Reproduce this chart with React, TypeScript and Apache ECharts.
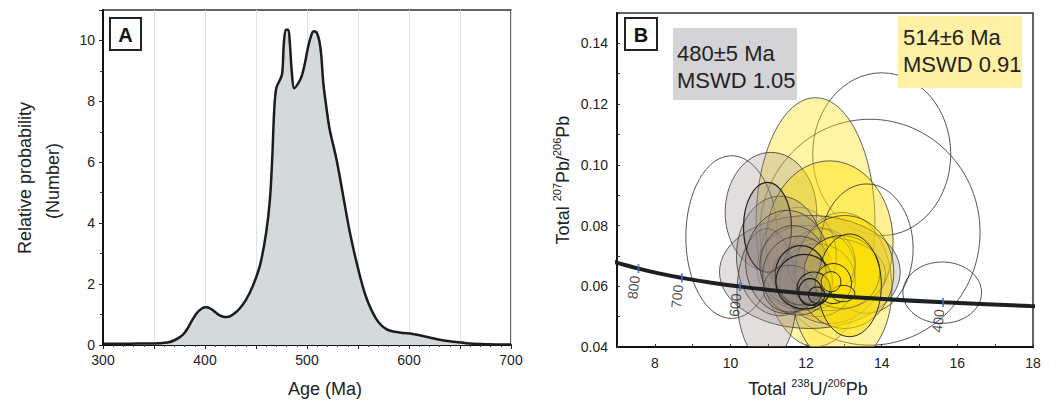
import React, { useEffect, useRef } from 'react';
import * as echarts from 'echarts';

// Panel A: probability density (Age in Ma vs relative probability)
const ageMa = [300, 320, 340, 355, 363, 369, 375, 379, 383, 387, 391, 394, 397, 400, 403, 406, 410, 414, 418, 421, 425, 429, 434, 440, 447, 454, 460, 463.7, 466, 468, 470, 473.4, 475.7, 477.3, 479.3, 481.6, 483.2, 485.2, 487.5, 491.4, 494.6, 497.9, 501, 504, 506.5, 509.3, 512, 514, 516, 519, 522.3, 528.9, 535.4, 541.9, 550, 558.2, 568, 577.8, 590.8, 603.8, 616.9, 630, 643, 656, 670, 685, 700];
const relProb = [0.04, 0.04, 0.05, 0.06, 0.08, 0.14, 0.25, 0.36, 0.55, 0.79, 1.0, 1.12, 1.2, 1.24, 1.23, 1.18, 1.08, 0.98, 0.93, 0.92, 0.95, 1.04, 1.2, 1.47, 1.95, 2.63, 3.7, 4.8, 6.2, 7.8, 8.45, 8.7, 8.92, 9.9, 10.35, 10.35, 9.9, 8.92, 8.43, 8.59, 8.81, 9.24, 9.78, 10.15, 10.3, 10.27, 10.0, 9.5, 8.6, 7.8, 7.07, 6.1, 4.91, 3.72, 2.52, 1.55, 0.85, 0.52, 0.41, 0.36, 0.27, 0.17, 0.11, 0.06, 0.03, 0.02, 0.02];

// Panel B: Tera-Wasserburg concordia (238U/206Pb vs 207Pb/206Pb)
const concU = [6.921, 7.0065, 7.568, 8.105, 8.718, 9.426, 10.252, 11.228, 12.399, 13.831, 15.621, 17.923, 18.464];
const concPb = [0.06805, 0.06772, 0.0658, 0.06425, 0.06277, 0.06131, 0.0599, 0.05854, 0.05722, 0.05594, 0.0547, 0.0535, 0.05326];

const tickAges = ['800', '700', '600', '400'];
const tickU = [7.568, 8.718, 10.252, 15.621];
const tickPb = [0.0658, 0.06277, 0.0599, 0.0547];

// Error ellipses: centre (U, Pb), semi-axes, and group
const ellU = [13.69, 14.0, 12.25, 10.03, 11.07, 12.95, 12.62, 12.1, 11.31, 13.6, 10.96, 13.02, 10.98, 11.5, 11.66, 11.8, 12.95, 13.15, 11.86, 11.57, 12.0, 12.3, 11.8, 12.6, 12.4, 11.95, 12.72, 12.2, 12.11, 12.28, 12.98, 12.66, 15.6];
const ellPb = [0.0778, 0.1035, 0.0811, 0.0762, 0.0844, 0.0592, 0.0745, 0.0647, 0.07, 0.0724, 0.0571, 0.0647, 0.0794, 0.068, 0.0669, 0.0635, 0.0647, 0.0603, 0.0636, 0.0592, 0.066, 0.062, 0.07, 0.064, 0.068, 0.0615, 0.0609, 0.0592, 0.0581, 0.0571, 0.0576, 0.0615, 0.0579];
const ellRU = [2.91, 1.825, 1.57, 1.21, 1.21, 1.32, 1.68, 2.39, 1.15, 1.23, 0.79, 1.3, 0.635, 1.1, 0.88, 0.95, 1.0, 0.84, 0.68, 0.7, 1.3, 1.0, 1.0, 1.5, 0.9, 0.75, 0.48, 0.44, 0.31, 0.22, 0.31, 0.26, 1.04];
const ellRPb = [0.0372, 0.0268, 0.041, 0.0268, 0.0197, 0.0251, 0.0268, 0.0186, 0.0197, 0.0213, 0.0219, 0.0186, 0.0148, 0.017, 0.0131, 0.013, 0.012, 0.0169, 0.0098, 0.0077, 0.014, 0.012, 0.016, 0.012, 0.011, 0.009, 0.0066, 0.0055, 0.0044, 0.0027, 0.0027, 0.0033, 0.0101];
const ellGroup = ['open', 'open', 'yellow', 'open', 'gray', 'yellow', 'yellowM', 'gray', 'gray', 'open', 'gray', 'yellowM', 'grayD', 'gray', 'gray', 'gray', 'yellowB', 'yellowB', 'grayD', 'gray', 'thin', 'thin', 'thin', 'thin', 'thin', 'grayD', 'yellowB', 'grayD', 'grayD', 'grayD', 'yellowB', 'yellowB', 'open'];

const FONT = '"Liberation Sans", Arial, Helvetica, sans-serif';

const styleFor = (g: string) => {
  switch (g) {
    case 'yellow': return { fill: 'rgba(255,226,20,0.38)', stroke: '#3a3a3a', lineWidth: 0.8 };
    case 'yellowM': return { fill: 'rgba(255,222,0,0.42)', stroke: '#3a3a3a', lineWidth: 0.8 };
    case 'yellowB': return { fill: 'rgba(255,226,0,0.55)', stroke: '#2a2a2a', lineWidth: 1 };
    case 'gray': return { fill: 'rgba(150,135,135,0.28)', stroke: '#3a3a3a', lineWidth: 0.8 };
    case 'grayD': return { fill: 'rgba(140,128,128,0.3)', stroke: '#1e1e1e', lineWidth: 1.2 };
    case 'thin': return { fill: 'none', stroke: 'rgba(90,90,90,0.7)', lineWidth: 0.6 };
    default: return { fill: 'none', stroke: '#2a2a2a', lineWidth: 0.8 };
  }
};

export default function App() {
  const ref = useRef<HTMLDivElement>(null);
  useEffect(() => {
    if (!ref.current) return;
    const chart = echarts.init(ref.current, undefined, { renderer: 'svg' });
    const axisLbl = { fontFamily: FONT, fontSize: 14, color: '#222' };
    const richTitle = {
      t: { fontFamily: FONT, fontSize: 18, color: '#222', lineHeight: 21, verticalAlign: 'bottom' },
      s: { fontFamily: FONT, fontSize: 11, color: '#222', lineHeight: 21, verticalAlign: 'top' },
    };
    const option: any = {
      animation: false,
      backgroundColor: '#fff',
      textStyle: { fontFamily: FONT },
      grid: [
        { left: 103, top: 10, width: 408, height: 338, show: true, borderColor: '#333', borderWidth: 1.5, backgroundColor: 'transparent' },
        { left: 617, top: 13, width: 416, height: 339, show: true, borderColor: '#333', borderWidth: 1.5, backgroundColor: 'transparent' },
      ],
      xAxis: [
        {
          gridIndex: 0, type: 'value', min: 300, max: 700, interval: 50,
          axisLine: { lineStyle: { color: '#111', width: 2 } },
          axisTick: { show: true, length: 4, lineStyle: { color: '#222' } },
          minorTick: { show: true, splitNumber: 5, length: 2, lineStyle: { color: '#444' } },
          axisLabel: { ...axisLbl, margin: 8, formatter: (v: number) => (v % 100 === 0 ? String(v) : '') },
          splitLine: { show: true, lineStyle: { color: '#dde3e6', width: 1 } },
          name: 'Age (Ma)', nameLocation: 'middle', nameGap: 35,
          nameTextStyle: { fontFamily: FONT, fontSize: 18, color: '#222', padding: [0, 0, 0, 36] },
        },
        {
          gridIndex: 1, type: 'value', min: 7, max: 18, interval: 1,
          axisLine: { lineStyle: { color: '#111', width: 2 } },
          axisTick: { show: true, inside: true, length: 3, lineStyle: { color: '#333' } },
          axisLabel: { ...axisLbl, margin: 9, formatter: (v: number) => (Math.round(v) % 2 === 0 ? String(v) : '') },
          splitLine: { show: false },
          name: '{t|Total }{s|238}{t|U/}{s|206}{t|Pb}', nameLocation: 'middle', nameGap: 30,
          nameTextStyle: { rich: richTitle, padding: [0, 34, 0, 0] },
        },
      ],
      yAxis: [
        {
          gridIndex: 0, type: 'value', min: 0, max: 11, interval: 2,
          axisLine: { show: true, lineStyle: { color: '#111', width: 2 } },
          axisTick: { show: true, length: 4, lineStyle: { color: '#222' } },
          minorTick: { show: true, splitNumber: 2, length: 3, lineStyle: { color: '#333' } },
          axisLabel: { ...axisLbl, margin: 8, formatter: (v: number) => (v % 2 === 0 ? String(v) : '') },
          splitLine: { show: false },
        },
        {
          gridIndex: 1, type: 'value', min: 0.04, max: 0.15, interval: 0.01,
          axisLine: { show: true, lineStyle: { color: '#111', width: 2 } },
          axisTick: { show: true, inside: true, length: 3, lineStyle: { color: '#333' } },
          axisLabel: { ...axisLbl, margin: 9, formatter: (v: number) => (Math.round(v * 100) % 2 === 0 ? v.toFixed(2) : '') },
          splitLine: { show: false },
          name: '{t|Total }{s|207}{t|Pb/}{s|206}{t|Pb}', nameLocation: 'middle', nameGap: 45, nameRotate: 90,
          nameTextStyle: { rich: richTitle },
        },
      ],
      series: [
        {
          type: 'line', xAxisIndex: 0, yAxisIndex: 0,
          data: ageMa.map((a, i) => [a, relProb[i]]),
          smooth: 0.35, symbol: 'none',
          lineStyle: { color: '#1c1c1c', width: 2.5 },
          areaStyle: { color: '#d4d9dc', opacity: 1 },
          z: 3,
        },
        {
          type: 'custom', xAxisIndex: 1, yAxisIndex: 1, clip: true,
          data: ellU.map((u, i) => [u, ellPb[i], ellRU[i], ellRPb[i]]),
          renderItem: (params: any, api: any) => {
            const c = api.coord([api.value(0), api.value(1)]);
            const s = api.size([api.value(2), api.value(3)]);
            const st = styleFor(ellGroup[params.dataIndex]);
            return {
              type: 'ellipse',
              shape: { cx: c[0], cy: c[1], rx: Math.abs(s[0]), ry: Math.abs(s[1]) },
              style: st,
            };
          },
          z: 2,
        },
        {
          type: 'line', xAxisIndex: 1, yAxisIndex: 1,
          data: concU.map((u, i) => [u, concPb[i]]),
          smooth: true, symbol: 'none', clip: true,
          lineStyle: { color: '#1d2023', width: 4 },
          z: 4,
        },
        {
          type: 'scatter', xAxisIndex: 1, yAxisIndex: 1,
          data: tickU.map((u, i) => [u, tickPb[i]]),
          symbol: 'rect', symbolSize: [2, 9],
          itemStyle: { color: '#3b6fc4' },
          label: {
            show: true, position: 'inside', rotate: 84, offset: [-19, -3],
            formatter: (p: any) => tickAges[p.dataIndex],
            fontFamily: FONT, fontSize: 14, color: '#1a1a1a',
          },
          z: 5,
        },
      ],
      graphic: [
        // Panel A y title
        { type: 'text', x: 25, y: 178, rotation: Math.PI / 2, style: { text: 'Relative probability', font: `18px ${FONT}`, fill: '#222', align: 'center', verticalAlign: 'middle' } },
        { type: 'text', x: 53, y: 181, rotation: Math.PI / 2, style: { text: '(Number)', font: `18px ${FONT}`, fill: '#222', align: 'center', verticalAlign: 'middle' } },
        // Panel labels
        { type: 'rect', shape: { x: 110, y: 18, width: 31, height: 32 }, style: { fill: '#fff', stroke: '#222', lineWidth: 2 }, z: 10 },
        { type: 'text', x: 125.5, y: 34.5, style: { text: 'A', font: `bold 20px ${FONT}`, fill: '#111', align: 'center', verticalAlign: 'middle' }, z: 11 },
        { type: 'rect', shape: { x: 625, y: 18, width: 32, height: 32 }, style: { fill: '#fff', stroke: '#222', lineWidth: 2 }, z: 10 },
        { type: 'text', x: 641, y: 34.5, style: { text: 'B', font: `bold 20px ${FONT}`, fill: '#111', align: 'center', verticalAlign: 'middle' }, z: 11 },
        // Age boxes
        { type: 'rect', shape: { x: 673, y: 28, width: 124, height: 72 }, style: { fill: '#d4d4d6' }, z: 10 },
        { type: 'text', x: 677, y: 53, style: { text: '480±5 Ma', font: `22px ${FONT}`, fill: '#222', verticalAlign: 'middle' }, z: 11 },
        { type: 'text', x: 677, y: 80, style: { text: 'MSWD 1.05', font: `22px ${FONT}`, fill: '#222', verticalAlign: 'middle' }, z: 11 },
        { type: 'rect', shape: { x: 898, y: 16, width: 124, height: 72 }, style: { fill: '#fff0a3' }, z: 10 },
        { type: 'text', x: 903, y: 37, style: { text: '514±6 Ma', font: `22px ${FONT}`, fill: '#222', verticalAlign: 'middle' }, z: 11 },
        { type: 'text', x: 903, y: 64, style: { text: 'MSWD 0.91', font: `22px ${FONT}`, fill: '#222', verticalAlign: 'middle' }, z: 11 },
      ],
    };
    chart.setOption(option);
    return () => chart.dispose();
  }, []);
  return <div ref={ref} style={{ position: 'fixed', left: 0, top: 0, width: 1056, height: 403, background: '#fff' }} />;
}
